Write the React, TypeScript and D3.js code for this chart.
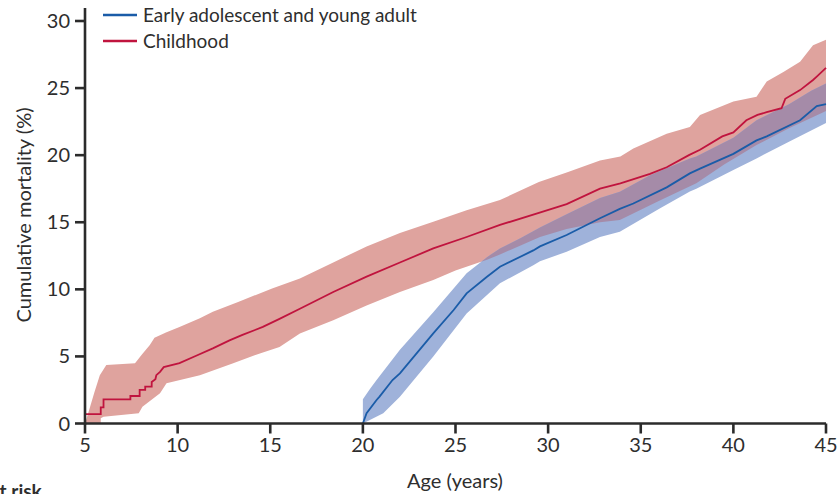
import React from "react";
import * as d3 from "d3";

// Childhood cumulative mortality (age, %)
const childAge = [5, 5, 5.85, 5.85, 6.0, 6.0, 7.45, 7.45, 7.95, 7.95, 8.25, 8.25, 8.6, 8.6, 8.8, 8.85, 9.05, 9.25, 10.1, 11.0, 11.9, 12.8, 13.5, 14.6, 15.5, 16.6, 18.4, 20.2, 22.0, 23.8, 25.6, 27.4, 29.5, 31.0, 32.8, 33.9, 35.5, 36.4, 37.6, 38.2, 39.4, 40.0, 40.7, 41.3, 41.8, 42.6, 42.8, 43.6, 44.3, 44.5, 45];
const childEst = [0, 0.7, 0.7, 1.2, 1.2, 1.8, 1.8, 2.05, 2.05, 2.5, 2.5, 2.75, 2.75, 3.1, 3.3, 3.6, 3.85, 4.2, 4.5, 5.05, 5.6, 6.2, 6.6, 7.2, 7.8, 8.55, 9.8, 10.95, 12.0, 13.05, 13.9, 14.8, 15.7, 16.35, 17.5, 17.9, 18.6, 19.1, 20.0, 20.4, 21.4, 21.7, 22.6, 23.0, 23.2, 23.5, 24.2, 24.85, 25.6, 25.85, 26.5];

const childUpAge = [5, 5.2, 5.5, 5.8, 6.15, 7.7, 8.05, 8.5, 8.75, 9.4, 10.1, 11.2, 11.9, 13.3, 15.1, 16.6, 18.4, 20.2, 22.0, 23.8, 25.6, 27.4, 29.5, 31.0, 32.8, 33.9, 34.6, 36.4, 37.65, 38.2, 40.0, 41.25, 41.8, 42.7, 43.6, 44.3, 45];
const childUp = [0, 0.9, 2.3, 3.6, 4.36, 4.5, 5.1, 5.85, 6.4, 6.8, 7.2, 7.85, 8.33, 9.07, 10.07, 10.8, 12.0, 13.2, 14.2, 15.04, 15.9, 16.65, 18.0, 18.7, 19.6, 19.9, 20.5, 21.6, 22.1, 23.0, 24.0, 24.35, 25.5, 26.2, 26.96, 28.2, 28.6];

const childLoAge = [5, 5.85, 5.85, 6.0, 7.9, 8.1, 9.05, 9.4, 11.2, 13.0, 14.4, 15.5, 16.6, 18.4, 20.2, 22.0, 23.8, 25.0, 26.7, 27.4, 29.56, 31.0, 32.8, 33.87, 36.0, 38.0, 39.5, 41.25, 43.0, 45];
const childLo = [0, 0, 0.4, 0.5, 0.76, 1.25, 2.25, 3.0, 3.6, 4.5, 5.2, 5.7, 6.7, 7.7, 8.8, 9.8, 10.7, 11.4, 12.2, 12.6, 13.9, 14.5, 15.0, 15.16, 16.6, 17.9, 19.3, 20.75, 22.0, 23.3];

// Early adolescent and young adult
const youngAge = [20, 20.2, 20.74, 20.9, 21.6, 22.0, 23.8, 24.9, 25.6, 26.7, 27.4, 29.2, 29.56, 31.0, 32.8, 33.87, 34.6, 36.4, 37.65, 38.2, 40.0, 41.25, 41.8, 43.6, 44.5, 45];
const youngEst = [0, 0.76, 1.75, 2.0, 3.24, 3.74, 6.72, 8.46, 9.7, 10.94, 11.68, 12.9, 13.2, 14.05, 15.3, 16.0, 16.4, 17.6, 18.64, 19.0, 20.1, 21.1, 21.4, 22.6, 23.66, 23.8];

const youngUpAge = [20, 20, 20.4, 20.74, 22.0, 23.8, 25.6, 26.7, 27.4, 28.5, 29.56, 31.0, 32.8, 33.87, 35.5, 37.65, 38.0, 40.0, 41.25, 43.0, 44.2, 45];
const youngUp = [0, 1.8, 2.6, 3.24, 5.5, 8.3, 11.2, 12.4, 13.05, 13.8, 14.6, 15.6, 16.8, 17.27, 18.5, 19.76, 19.9, 21.3, 22.6, 23.8, 24.8, 25.35];

const youngLoAge = [20, 21.1, 22.0, 23.8, 25.6, 27.4, 29.2, 29.56, 31.0, 32.8, 33.87, 36.0, 37.65, 38.0, 40.0, 41.25, 43.0, 45];
const youngLo = [0, 0.76, 2.0, 5.0, 8.2, 10.45, 11.8, 12.1, 12.8, 13.9, 14.3, 16.0, 17.3, 17.5, 18.9, 19.76, 21.0, 22.4];

const xTicks = [5, 10, 15, 20, 25, 30, 35, 40, 45];
const yTicks = [0, 5, 10, 15, 20, 25, 30];
const legendLabels = ["Early adolescent and young adult", "Childhood"];

type P = [number, number];
const zip = (a: number[], b: number[]): P[] => a.map((v, i) => [v, b[i]] as P);

function bandPoints(upA: number[], up: number[], loA: number[], lo: number[]): P[] {
  return [...zip(upA, up), ...zip(loA, lo).reverse()];
}

export default function App() {
  const W = 838, H = 494;
  const x = d3.scaleLinear().domain([5, 45]).range([85, 826]);
  const y = d3.scaleLinear().domain([0, 30]).range([423.5, 21]);

  const line = d3.line<P>().x((d) => x(d[0])).y((d) => y(d[1]));
  const poly = (pts: P[]) => line(pts) + "Z";

  const redBand = poly(bandPoints(childUpAge, childUp, childLoAge, childLo));
  const blueBand = poly(bandPoints(youngUpAge, youngUp, youngLoAge, youngLo));
  const redLine = line(zip(childAge, childEst))!;
  const blueLine = line(zip(youngAge, youngEst))!;

  const font = "Lato, 'Open Sans', sans-serif";
  const txt = "#2e2e2e";
  const axisCol = "#2b2b2b";
  const blue = "#1a5ca8";
  const red = "#c0143e";
  const legendColors = [blue, red];

  return (
    <svg width={W} height={H} style={{ position: "absolute", left: 0, top: 0 }} fontFamily={font}>
      <defs>
        <clipPath id="redClip">
          <path d={redBand} />
        </clipPath>
      </defs>
      <rect width={W} height={H} fill="#fff" />
      <path d={redBand} fill="#dfa39e" />
      <path d={blueBand} fill="#9fb2da" />
      <path d={blueBand} fill="#a58ba8" clipPath="url(#redClip)" />
      <path d={redLine} fill="none" stroke={red} strokeWidth={1.8} />
      <path d={blueLine} fill="none" stroke={blue} strokeWidth={1.8} />

      <line x1={x(5)} x2={x(5)} y1={8} y2={y(0) + 1} stroke={axisCol} strokeWidth={2.6} />
      <line x1={x(5) - 1} x2={x(45)} y1={y(0)} y2={y(0)} stroke={axisCol} strokeWidth={2.6} />
      {yTicks.map((t) => (
        <g key={"y" + t}>
          <line x1={x(5) - 10} x2={x(5)} y1={y(t)} y2={y(t)} stroke={axisCol} strokeWidth={2.6} />
          <text x={70} y={y(t) + 7} textAnchor="end" fontSize={20} fill={txt}>{t}</text>
        </g>
      ))}
      {xTicks.map((t) => (
        <g key={"x" + t}>
          <line x1={x(t)} x2={x(t)} y1={y(0)} y2={y(0) + 10} stroke={axisCol} strokeWidth={2.6} />
          <text x={x(t)} y={452} textAnchor="middle" fontSize={20} fill={txt}>{t}</text>
        </g>
      ))}
      <text x={455} y={488} textAnchor="middle" fontSize={20} fill={txt}>Age (years)</text>
      <text transform="translate(31,215) rotate(-90)" textAnchor="middle" fontSize={20} fill={txt}>Cumulative mortality (%)</text>
      <text x={-13} y={498} fontSize={19} fontWeight="bold" fill={txt}>At risk</text>

      {legendLabels.map((l, i) => (
        <g key={l}>
          <line x1={103} x2={137} y1={15 + i * 26} y2={15 + i * 26} stroke={legendColors[i]} strokeWidth={2.6} />
          <text x={143} y={22 + i * 26} fontSize={19} fill={txt}>{l}</text>
        </g>
      ))}
    </svg>
  );
}
